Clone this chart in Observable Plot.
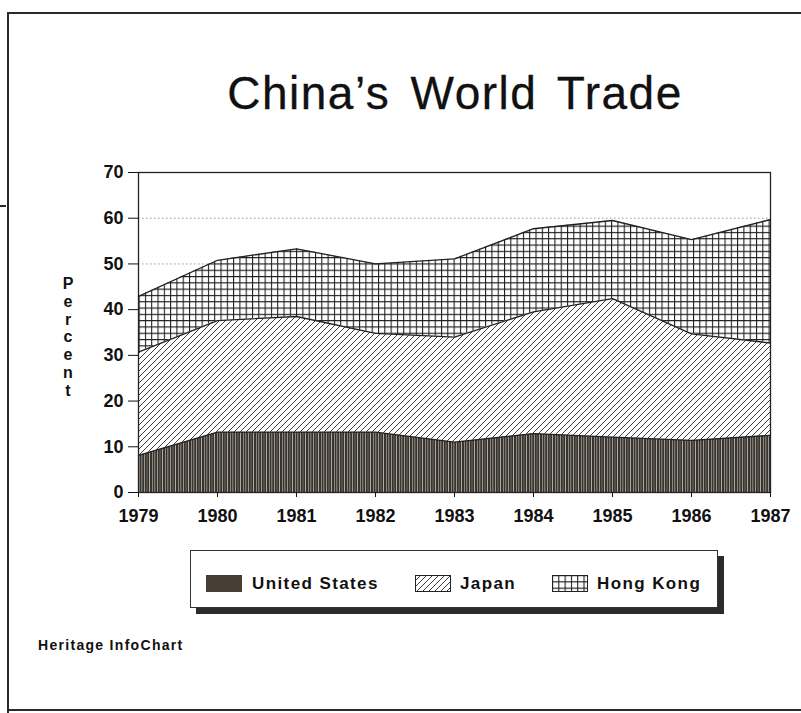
<!DOCTYPE html>
<html>
<head>
<meta charset="utf-8">
<script src="https://cdn.jsdelivr.net/npm/d3@7"></script>
<script src="https://cdn.jsdelivr.net/npm/@observablehq/plot@0.6"></script>
<style>
  body { margin: 0; background: #fff; }
  #wrap { position: relative; width: 801px; height: 713px; overflow: hidden; background: #fff;
          font-family: "Liberation Sans", Arial, Helvetica, sans-serif; color: #111; }
  .ln { position: absolute; background: #2a2a2a; }
  #title { position: absolute; left: 0; width: 910px; top: 70px; text-align: center;
           font-size: 46px; line-height: 46px; letter-spacing: 1.5px; word-spacing: 6px; color: #111;
           -webkit-text-stroke: 0.3px #111; }
  #ylabel { position: absolute; left: 60px; width: 16px; top: 275px; text-align: center;
            font-size: 16px; line-height: 17.8px; font-weight: bold; }
  #chart { position: absolute; left: 0; top: 150px; }
  #legend { position: absolute; left: 190px; top: 550px; width: 528px; height: 58px; box-sizing: border-box;
            border: 1px solid #333; background: #fff; box-shadow: 6px 6px 0 #2b2b2b; }
  .sw { position: absolute; top: 24px; width: 36px; height: 17px; box-sizing: border-box; }
  .lt { position: absolute; top: 24px; font-size: 17px; line-height: 17px; font-weight: bold; letter-spacing: 1.4px; }
  #credit { position: absolute; left: 38px; top: 638px; font-size: 14px; line-height: 14px; font-weight: bold; letter-spacing: 1.3px; }
</style>
</head>
<body>
<div id="wrap">
  <svg width="0" height="0" style="position:absolute">
    <defs>
      <pattern id="pUS" patternUnits="userSpaceOnUse" width="13" height="60">
        <rect width="13" height="60" fill="#37332e"></rect>
        <path d="M1.5,0V60" stroke="#a9a49e" stroke-width="0.9"></path>
        <path d="M4,0V60" stroke="#6f6a64" stroke-width="1"></path>
        <path d="M6.5,0V60" stroke="#cfcac4" stroke-width="0.8"></path>
        <path d="M9.5,0V60" stroke="#8c8781" stroke-width="1"></path>
        <path d="M11.8,0V60" stroke="#bdb8b2" stroke-width="0.7"></path>
      </pattern>
      <pattern id="pJP" patternUnits="userSpaceOnUse" width="6" height="6">
        <rect width="6" height="6" fill="#fff"></rect>
        <path d="M0,6L6,0M-1,1L1,-1M5,7L7,5" stroke="#2a2a2a" stroke-width="0.9"></path>
      </pattern>
      <pattern id="pHK" patternUnits="userSpaceOnUse" width="6.3" height="6.3">
        <rect width="6.3" height="6.3" fill="#fff"></rect>
        <path d="M0,0.5H6.3M0.5,0V6.3" stroke="#1a1a1a" stroke-width="1.1"></path>
      </pattern>
    </defs>
  </svg>

  <div class="ln" style="left:8px; top:12px; width:793px; height:2px;"></div>
  <div class="ln" style="left:7px; top:12px; width:2px; height:701px;"></div>
  <div class="ln" style="left:8px; top:709px; width:793px; height:2px;"></div>
  <div class="ln" style="left:0px; top:205px; width:6px; height:2px;"></div>

  <div id="title">China’s World Trade</div>
  <div id="ylabel"></div>
  <div id="chart"></div>
  <div id="legend"></div>
  <div id="credit">Heritage InfoChart</div>
</div>

<script>
// ---- data (percent of China's world trade) ----
const years = [1979, 1980, 1981, 1982, 1983, 1984, 1985, 1986, 1987];
const unitedStates = [8.1, 13.2, 13.2, 13.2, 11.0, 12.9, 12.1, 11.4, 12.5];
const japan        = [22.6, 24.4, 25.3, 21.6, 23.0, 26.6, 30.3, 23.3, 20.2];
const hongKong     = [12.2, 13.2, 14.8, 15.2, 17.1, 18.2, 17.1, 20.6, 27.0];
const seriesNames  = ["United States", "Japan", "Hong Kong"];
const seriesFills  = ["url(#pUS)", "url(#pJP)", "url(#pHK)"];
const legendSwatch = ["#463d35", "url(#pJP)", "url(#pHK)"];
const yTicks = [0, 10, 20, 30, 40, 50, 60, 70];
const gridLevels = [10, 20, 30, 40, 50, 60];
const yLabel = "Percent";

const seriesValues = [unitedStates, japan, hongKong];
const rows = [];
years.forEach((yr, i) => {
  seriesNames.forEach((s, k) => {
    rows.push({ year: yr, series: s, value: seriesValues[k][i], fill: seriesFills[k] });
  });
});

const chart = Plot.plot({
  width: 801,
  height: 390,
  marginLeft: 138,
  marginRight: 31,
  marginTop: 22,
  marginBottom: 48,
  style: "background: transparent; font-family: 'Liberation Sans', Arial, sans-serif; color: #111;",
  x: { domain: [1979, 1987] },
  y: { domain: [0, 70] },
  color: { type: "identity" },
  marks: [
    Plot.ruleY(gridLevels, { stroke: "#999", strokeDasharray: "1.5,2.5", strokeWidth: 1 }),
    Plot.areaY(rows, Plot.stackY({ x: "year", y: "value", z: "series", fill: "fill", curve: "linear" })),
    Plot.lineY(rows, Plot.stackY2({ x: "year", y: "value", z: "series", stroke: "#222", strokeWidth: 1.3 })),
    Plot.frame({ stroke: "#222", strokeWidth: 1.3 }),
    Plot.axisY({ ticks: yTicks, tickSize: 10, tickPadding: 5, label: null,
                 fontSize: 18, fontWeight: "bold", letterSpacing: 1 }),
    Plot.axisX({ ticks: years, tickFormat: "d", tickSize: 5, tickPadding: 12, label: null,
                 fontSize: 18, fontWeight: "bold", letterSpacing: 0.5 })
  ]
});
document.getElementById("chart").appendChild(chart);

// vertical axis label
document.getElementById("ylabel").innerHTML = yLabel.split("").join("<br>");

// legend
const legend = document.getElementById("legend");
const swX = [15, 224, 361];
const txX = [61, 269, 406];
seriesNames.forEach((s, k) => {
  const sw = document.createElementNS("http://www.w3.org/2000/svg", "svg");
  sw.setAttribute("class", "sw");
  sw.setAttribute("width", 36);
  sw.setAttribute("height", 17);
  sw.style.left = swX[k] + "px";
  sw.innerHTML = `<rect x="0.5" y="0.5" width="35" height="16" fill="${legendSwatch[k]}" stroke="${k === 0 ? "#463d35" : "#222"}" stroke-width="1"></rect>`;
  legend.appendChild(sw);
  const t = document.createElement("div");
  t.className = "lt";
  t.style.left = txX[k] + "px";
  t.textContent = s;
  legend.appendChild(t);
});
</script>
</body>
</html>
